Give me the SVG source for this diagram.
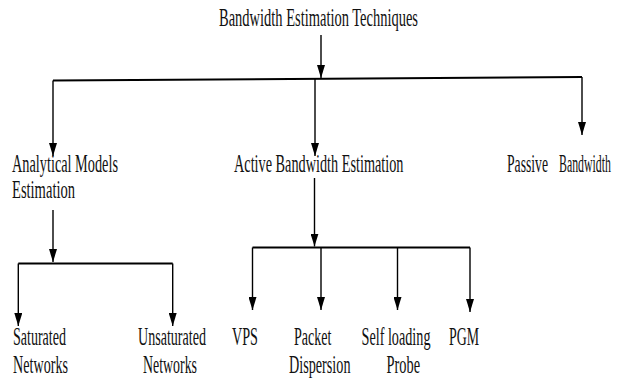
<svg xmlns="http://www.w3.org/2000/svg" width="625" height="378" viewBox="0 0 625 378">
<style>
.t{font-family:"Liberation Serif","Times New Roman",serif;font-size:25px;fill:#111}
.c{fill:none;stroke:#000;stroke-width:1.4}
.h{fill:none;stroke:#000;stroke-width:2}
</style>
<defs>
<marker id="ah" viewBox="0 0 13 8" refX="13" refY="4" markerWidth="13" markerHeight="8" markerUnits="userSpaceOnUse" orient="auto">
<path d="M0,0 L13,4 L0,8 z" fill="#000"/>
</marker>
</defs>
<rect width="625" height="378" fill="#fff"/>
<g id="connectors">
<path class="c" d="M321,35 V78" marker-end="url(#ah)"/>
<path class="h" d="M53,80.5 L582,77"/>
<path class="c" d="M53,80.5 V156" marker-end="url(#ah)"/>
<path class="c" d="M315,79 V156" marker-end="url(#ah)"/>
<path class="c" d="M582,77 V135" marker-end="url(#ah)"/>
<path class="c" d="M53,210 V262" marker-end="url(#ah)"/>
<path class="h" d="M18.3,263.5 H172.7"/>
<path class="c" d="M18.3,263.5 V326" marker-end="url(#ah)"/>
<path class="c" d="M172.7,263.5 V326" marker-end="url(#ah)"/>
<path class="c" d="M314.5,178 V246.5" marker-end="url(#ah)"/>
<path class="h" d="M252.5,247.5 H470"/>
<path class="c" d="M252.5,247.5 V310" marker-end="url(#ah)"/>
<path class="c" d="M321,247.5 V310" marker-end="url(#ah)"/>
<path class="c" d="M397.5,247.5 V310" marker-end="url(#ah)"/>
<path class="c" d="M470,247.5 V312" marker-end="url(#ah)"/>
</g>
<g class="t" font-family="Liberation Serif, serif" font-size="25">
<g id="root"><text x="219" y="26" textLength="199" lengthAdjust="spacingAndGlyphs">Bandwidth Estimation Techniques</text></g>
<g id="analytical">
<text x="12" y="171.5" textLength="106" lengthAdjust="spacingAndGlyphs">Analytical Models</text>
<text x="12" y="198" textLength="63" lengthAdjust="spacingAndGlyphs">Estimation</text>
</g>
<g id="active"><text x="234" y="171.5" textLength="169.5" lengthAdjust="spacingAndGlyphs">Active Bandwidth Estimation</text></g>
<g id="passive"><text x="507" y="171.5" textLength="41" lengthAdjust="spacingAndGlyphs">Passive</text><text x="559" y="171.5" textLength="52" lengthAdjust="spacingAndGlyphs">Bandwidth</text></g>
<g id="saturated">
<text x="13" y="345" textLength="53" lengthAdjust="spacingAndGlyphs">Saturated</text>
<text x="13" y="372.5" textLength="55" lengthAdjust="spacingAndGlyphs">Networks</text>
</g>
<g id="unsaturated">
<text x="138" y="345" textLength="68" lengthAdjust="spacingAndGlyphs">Unsaturated</text>
<text x="143" y="372.5" textLength="54" lengthAdjust="spacingAndGlyphs">Networks</text>
</g>
<g id="vps"><text x="232" y="345" textLength="26" lengthAdjust="spacingAndGlyphs">VPS</text></g>
<g id="packet">
<text x="294" y="345" textLength="37.5" lengthAdjust="spacingAndGlyphs">Packet</text>
<text x="289" y="372.5" textLength="61.5" lengthAdjust="spacingAndGlyphs">Dispersion</text>
</g>
<g id="selfloading">
<text x="361.5" y="345" textLength="69" lengthAdjust="spacingAndGlyphs">Self loading</text>
<text x="386.5" y="372.5" textLength="33.5" lengthAdjust="spacingAndGlyphs">Probe</text>
</g>
<g id="pgm"><text x="449" y="345" textLength="30" lengthAdjust="spacingAndGlyphs">PGM</text></g>
</g>
</svg>
